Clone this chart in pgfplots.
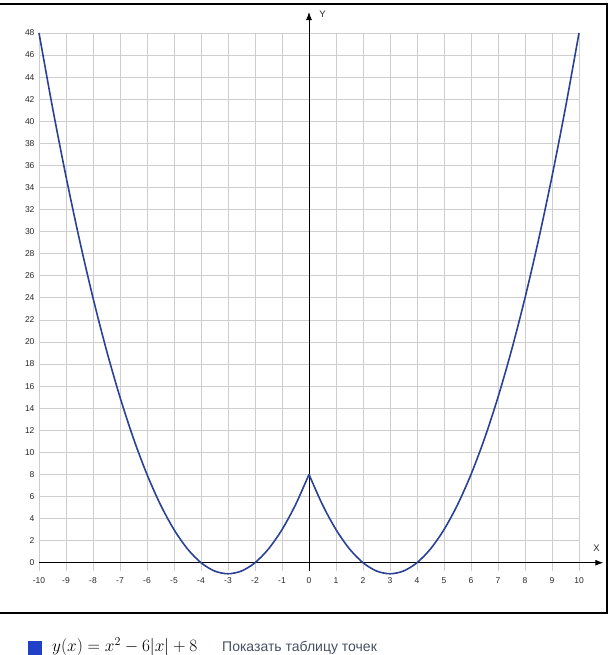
\documentclass[border=0pt]{standalone}
\usepackage{fontspec}
\setmainfont{Liberation Sans}
\usepackage{pgfplots}
\pgfplotsset{compat=1.18}
\usetikzlibrary{arrows.meta}
\definecolor{curve}{RGB}{42,66,150}
\definecolor{gridc}{RGB}{206,206,206}
\definecolor{legsq}{RGB}{32,64,200}
\definecolor{linkc}{RGB}{70,80,100}
\definecolor{tickc}{RGB}{40,40,40}

\pgfplotstableread{
x y
-10 48
-9.5 41.25
-9 35
-8.5 29.25
-8 24
-7.5 19.25
-7 15
-6.5 11.25
-6 8
-5.5 5.25
-5 3
-4.5 1.25
-4 0
-3.5 -0.75
-3 -1
-2.5 -0.75
-2 0
-1.5 1.25
-1 3
-0.5 5.25
0 8
}\leftbranch
\pgfplotstableread{
x y
0 8
0.5 5.25
1 3
1.5 1.25
2 0
2.5 -0.75
3 -1
3.5 -0.75
4 0
4.5 1.25
5 3
5.5 5.25
6 8
6.5 11.25
7 15
7.5 19.25
8 24
8.5 29.25
9 35
9.5 41.25
10 48
}\rightbranch

\begin{document}
\begin{tikzpicture}
\path[use as bounding box] (0pt,0pt) rectangle (612pt,655pt);
\draw[line width=1.1pt] (-3pt,42pt) rectangle (607pt,651pt);
\begin{axis}[
    at={(39pt,84pt)},
    anchor=south west,
    scale only axis,
    width=540pt,
    height=538pt,
    xmin=-10, xmax=10,
    ymin=-0.75, ymax=48,
    clip=false,
    axis line style={draw=none},
    axis lines=left,
    xtick={-10,-9,...,10},
    ytick={0,2,...,48},
    minor tick num=0,
    major tick length=0pt,
    xmajorgrids=true,
    ymajorgrids=true,
    major grid style={gridc, line width=0.75pt},
    tick label style={font=\fontsize{8.5}{10}\selectfont, text=tickc},
    /pgf/number format/assume math mode=true,
    xticklabel style={yshift=-3pt},
    yticklabel style={xshift=-1pt},
]
\draw[black, line width=0.9pt, -{Latex[length=8pt,width=6pt]}] (axis cs:-10,0) -- (axis cs:10.9,0);
\draw[black, line width=0.9pt, -{Latex[length=8pt,width=6pt]}] (axis cs:0,-0.75) -- (axis cs:0,49.9);
\node[font=\fontsize{9.5}{11}\selectfont, text=tickc] at (axis cs:10.65,1.3) {X};
\node[font=\fontsize{9.5}{11}\selectfont, text=tickc] at (axis cs:0.5,49.7) {Y};
\addplot[curve, line width=1.6pt, smooth] table {\leftbranch};
\addplot[curve, line width=1.6pt, smooth] table {\rightbranch};
\end{axis}
\fill[legsq] (28pt,0pt) rectangle (42pt,14pt);
\node[anchor=base west, inner sep=0pt, font=\fontsize{18}{20}\selectfont] at (52pt,3pt) {$y(x)=x^2-6|x|+8$};
\node[anchor=base west, inner sep=0pt, font=\fontsize{14}{16}\selectfont, text=linkc] at (222pt,3pt) {Показать таблицу точек};
\end{tikzpicture}
\end{document}
